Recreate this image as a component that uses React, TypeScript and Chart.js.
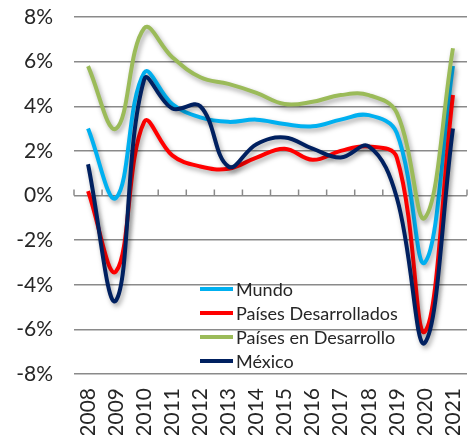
import React, { useEffect, useRef } from "react";
import { Chart, registerables } from "chart.js";

Chart.register(...registerables);

const years = ["2008", "2009", "2010", "2011", "2012", "2013", "2014", "2015", "2016", "2017", "2018", "2019", "2020", "2021"];
const mundo = [3.0, -0.1, 5.5, 4.1, 3.5, 3.3, 3.4, 3.2, 3.1, 3.4, 3.6, 2.8, -3.0, 5.8];
const desarrollados = [0.2, -3.4, 3.3, 1.8, 1.3, 1.2, 1.7, 2.1, 1.6, 2.0, 2.2, 1.7, -6.1, 4.5];
const enDesarrollo = [5.8, 3.0, 7.5, 6.2, 5.3, 5.0, 4.6, 4.1, 4.2, 4.5, 4.5, 3.7, -1.0, 6.6];
const mexico = [1.4, -4.7, 5.2, 3.9, 4.0, 1.3, 2.3, 2.6, 2.1, 1.7, 2.2, -0.1, -6.6, 3.0];

const seriesNames = ["Mundo", "Países Desarrollados", "Países en Desarrollo", "México"];
const seriesColors = ["#00B0F0", "#FF0000", "#9BBB59", "#002060"];
const seriesData = [mundo, desarrollados, enDesarrollo, mexico];

const yMin = -8;
const yMax = 8;
const yStep = 2;

const GRID = "#8a8a8a";
const TEXT = "#262626";
const FONT = "Lato";

export default function App() {
  const ref = useRef<HTMLCanvasElement | null>(null);

  useEffect(() => {
    if (!ref.current) return;

    const decorPlugin = {
      id: "decor",
      beforeDatasetsDraw(chart: any) {
        const ctx = chart.ctx;
        const xs = chart.scales.x;
        const y0 = chart.scales.y.getPixelForValue(0);
        const n = years.length;
        ctx.save();
        ctx.strokeStyle = GRID;
        ctx.lineWidth = 1.5;
        for (let i = 0; i <= n; i++) {
          const px = xs.left + (i * xs.width) / n;
          ctx.beginPath();
          ctx.moveTo(px, y0);
          ctx.lineTo(px, y0 - 6);
          ctx.stroke();
        }
        ctx.restore();
        ctx.save();
        ctx.shadowColor = "rgba(0,0,0,0.35)";
        ctx.shadowBlur = 5;
        ctx.shadowOffsetX = 2;
        ctx.shadowOffsetY = 3;
      },
      afterDatasetsDraw(chart: any) {
        chart.ctx.restore();
      },
      afterDraw(chart: any) {
        const ctx = chart.ctx;
        const area = chart.chartArea;
        ctx.save();
        ctx.font = `18px ${FONT}`;
        ctx.textBaseline = "middle";
        ctx.textAlign = "left";
        seriesNames.forEach((name, i) => {
          const y = area.bottom - 85 + i * 24;
          const x0 = area.left + 126;
          ctx.strokeStyle = seriesColors[i];
          ctx.lineWidth = 4;
          ctx.beginPath();
          ctx.moveTo(x0, y);
          ctx.lineTo(x0 + 33, y);
          ctx.stroke();
          ctx.fillStyle = TEXT;
          ctx.fillText(name, x0 + 36, y + 1);
        });
        ctx.restore();
      },
    };

    const chart = new Chart(ref.current, {
      type: "line",
      data: {
        labels: years,
        datasets: seriesNames.map((name, i) => ({
          label: name,
          data: seriesData[i],
          borderColor: seriesColors[i],
          backgroundColor: seriesColors[i],
          borderWidth: 4,
          pointRadius: 0,
          tension: 0.4,
          fill: false,
          order: seriesNames.length - 1 - i,
        })),
      },
      options: {
        responsive: false,
        animation: false,
        layout: { autoPadding: false, padding: { top: 17, right: 7, left: 0, bottom: 0 } },
        plugins: {
          legend: { display: false },
          title: { display: false },
          tooltip: { enabled: false },
        },
        scales: {
          x: {
            type: "category",
            offset: true,
            grid: { display: false, drawTicks: false },
            border: { display: false },
            ticks: {
              maxRotation: 90,
              minRotation: 90,
              padding: 14,
              color: TEXT,
              font: { family: FONT, size: 21 },
              autoSkip: false,
            },
            afterFit(scale: any) {
              scale.height = 61;
              scale.paddingLeft = 0;
              scale.paddingRight = 0;
              scale.paddingTop = 0;
              scale.paddingBottom = 0;
            },
          },
          y: {
            min: yMin,
            max: yMax,
            grid: { color: GRID, lineWidth: 1.5, drawTicks: false },
            border: { display: false },
            ticks: {
              stepSize: yStep,
              padding: 21,
              color: TEXT,
              font: { family: FONT, size: 21 },
              callback: (v: any) => `${v}%`,
            },
            afterFit(scale: any) {
              scale.width = 74;
              scale.paddingTop = 0;
              scale.paddingBottom = 0;
            },
          },
        },
      },
      plugins: [decorPlugin],
    });

    return () => chart.destroy();
  }, []);

  return (
    <div style={{ position: "fixed", left: 0, top: 0, width: 474, height: 435, background: "#fff" }}>
      <canvas ref={ref} width={474} height={435} style={{ display: "block" }} />
    </div>
  );
}
